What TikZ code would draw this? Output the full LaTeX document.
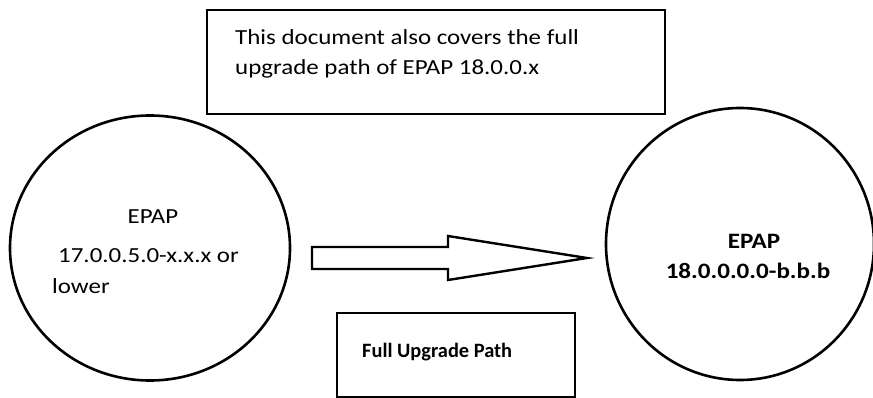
\documentclass[tikz,border=0pt]{standalone}
\usepackage{fontspec}
\setmainfont{Carlito}
\newfontfamily\widefont[FakeStretch=1.16]{Carlito}
\newfontfamily\widerfont[FakeStretch=1.14]{Carlito}
\usetikzlibrary{shapes.geometric}

\tikzset{
  outline/.style={draw, line width=2.6pt, inner sep=0pt, outer sep=0pt},
  txt/.style={font=\widefont\fontsize{21.5}{26}\selectfont, inner sep=0pt},
  bigtxt/.style={font=\widerfont\fontsize{22}{26}\selectfont\bfseries, inner sep=0pt},
  boxtxt/.style={font=\fontsize{20.4}{24}\selectfont\bfseries, inner sep=0pt},
}

\begin{document}
\begin{tikzpicture}[x=1pt, y=-1pt]
  \useasboundingbox (0,0) rectangle (873,398);

  \node[outline, rectangle, minimum width=458pt, minimum height=104pt] (note) at (436,62) {};
  \node[txt, anchor=base west] (notea) at (235,45) {This document also covers the full};
  \node[txt, anchor=base west] (noteb) at (235,75) {upgrade path of EPAP 18.0.0.x};

  \node[outline, ellipse, minimum width=280pt, minimum height=265pt] (old) at (150,248) {};
  \node[txt, anchor=base] (olda) at (153,224) {EPAP};
  \node[txt, anchor=base west] (oldb) at (58,262) {17.0.0.5.0-x.x.x or};
  \node[txt, anchor=base west] (oldc) at (52,293) {lower};

  \node[outline, ellipse, minimum width=268pt, minimum height=272pt] (new) at (740,244) {};
  \node[bigtxt, anchor=base] (newa) at (754,249) {EPAP};
  \node[bigtxt, anchor=base] (newb) at (748,279) {18.0.0.0.0-b.b.b};

  \coordinate (tail) at (312,258);
  \coordinate (tip) at (587,258);
  \draw[line width=2.4pt, line join=miter] (tail) ++(0,-11) -- ++(136,0) -- ++(0,-11) -- (tip)
    -- ++(-139,22) -- ++(0,-11) -- ++(-136,0) -- cycle;

  \node[outline, rectangle, minimum width=238pt, minimum height=84pt] (path) at (456,355) {};
  \node[boxtxt, anchor=base west] (pathtxt) at (362,357) {Full Upgrade Path};
\end{tikzpicture}
\end{document}
